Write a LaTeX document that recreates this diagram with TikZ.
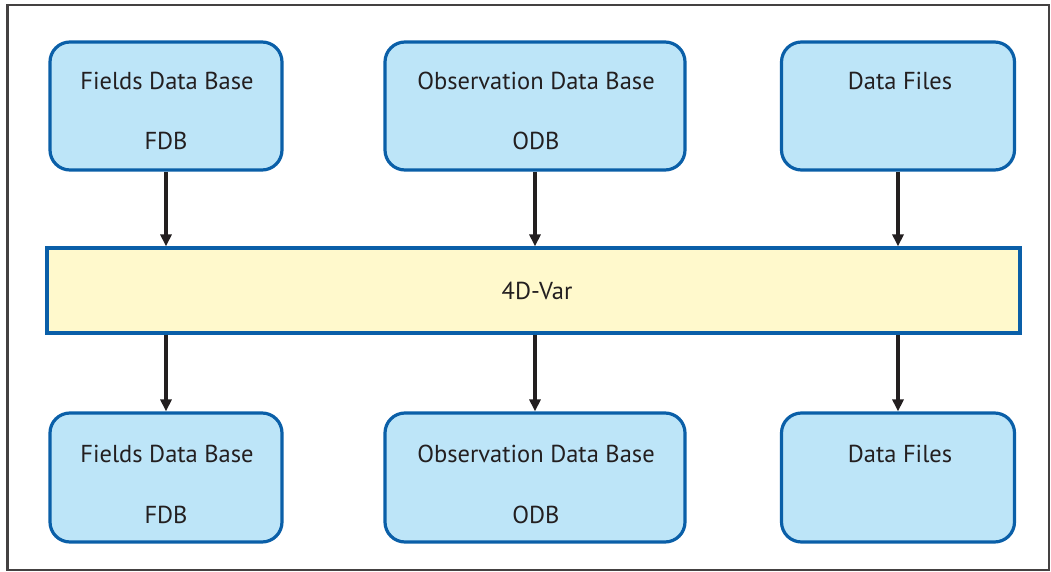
\documentclass[tikz,border=0pt]{standalone}
\usepackage{fontspec}
\setmainfont{PT Sans}
\usetikzlibrary{arrows.meta,calc}
\definecolor{boxblue}{HTML}{BDE5F8}
\definecolor{edgeblue}{HTML}{0A5FA8}
\definecolor{varyellow}{HTML}{FFF9CC}
\definecolor{ink}{HTML}{231F20}
\begin{document}
\begin{tikzpicture}[x=1pt,y=-1pt,
  dbbox/.style={draw=edgeblue,fill=boxblue,line width=3.2pt,rounded corners=20pt,inner sep=0pt},
  varbox/.style={draw=edgeblue,fill=varyellow,line width=3.2pt,inner sep=0pt},
  lbl/.style={font=\fontsize{24.5}{28}\selectfont,text=ink,inner sep=0pt,anchor=base},
  flow/.style={draw=ink,line width=3.2pt,-{Triangle[length=12pt,width=11pt]}}]
\useasboundingbox (0,0) rectangle (1051,572);
\draw[line width=2.4pt,draw=ink!85] (7.5,5) rectangle (1049,570);
% top row
\node[dbbox,minimum width=232pt,minimum height=128pt] (t1) at (166,106) {};
\node[dbbox,minimum width=300pt,minimum height=128pt] (t2) at (535,106) {};
\node[dbbox,minimum width=233pt,minimum height=128pt] (t3) at (898,106) {};
% middle
\node[varbox,minimum width=973pt,minimum height=85pt] (v) at (533.5,290.5) {};
% bottom row
\node[dbbox,minimum width=232pt,minimum height=129pt] (b1) at (166,477.5) {};
\node[dbbox,minimum width=300pt,minimum height=129pt] (b2) at (535,477.5) {};
\node[dbbox,minimum width=233pt,minimum height=129pt] (b3) at (898,477.5) {};
% labels
\node[lbl] (t1a) at (167,90) {Fields Data Base};
\node[lbl] (t1b) at (166,150) {FDB};
\node[lbl] (t2a) at (536,90) {Observation Data Base};
\node[lbl] (t2b) at (536,150) {ODB};
\node[lbl] (t3a) at (900,90) {Data Files};
\node[lbl] (va) at (537,299) {4D-Var};
\node[lbl] (b1a) at (167,462) {Fields Data Base};
\node[lbl] (b1b) at (166,523) {FDB};
\node[lbl] (b2a) at (536,462) {Observation Data Base};
\node[lbl] (b2b) at (536,523) {ODB};
\node[lbl] (b3a) at (900,462) {Data Files};
% arrows
\draw[flow] (t1.south) -- (t1.south |- v.north);
\draw[flow] (t2.south) -- (t2.south |- v.north);
\draw[flow] (t3.south) -- (t3.south |- v.north);
\draw[flow] (b1.north |- v.south) -- (b1.north);
\draw[flow] (b2.north |- v.south) -- (b2.north);
\draw[flow] (b3.north |- v.south) -- (b3.north);
\end{tikzpicture}
\end{document}
